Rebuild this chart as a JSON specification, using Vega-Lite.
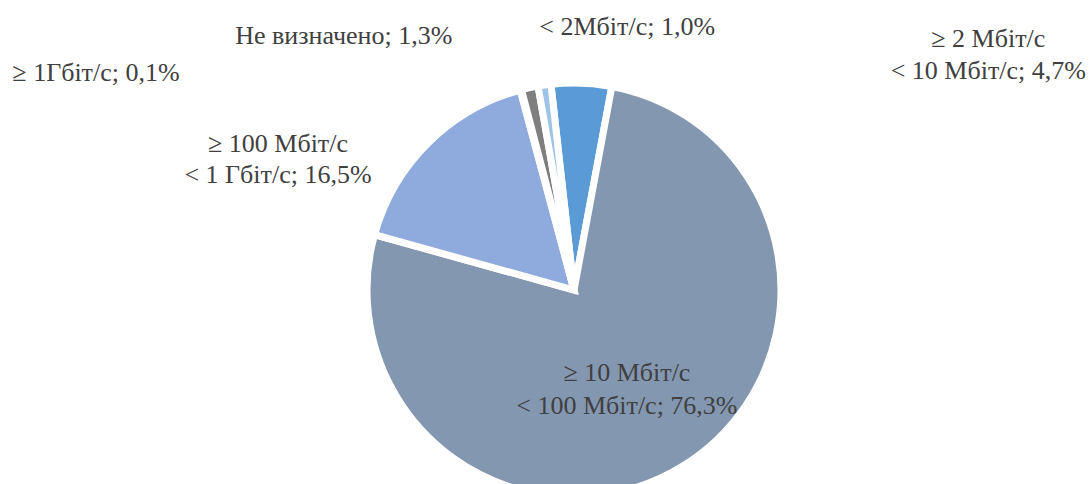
{
  "$schema": "https://vega.github.io/schema/vega-lite/v6.json",
  "width": 1030,
  "height": 388,
  "autosize": "none",
  "padding": {"left": 59, "top": 96, "right": 0, "bottom": 0},
  "background": "white",
  "view": {"stroke": null},
  "config": {"text": {"font": "Liberation Serif", "fontSize": 26, "color": "#404040", "lineBreak": "\n", "baseline": "middle", "align": "center", "lineHeight": 32}},
  "data": {"values": [
    {"idx": 1, "category": "≥ 2 Мбіт/с < 10 Мбіт/с", "value": 4.7, "label": "≥ 2 Мбіт/с\n< 10 Мбіт/с; 4,7%"},
    {"idx": 2, "category": "≥ 10 Мбіт/с < 100 Мбіт/с", "value": 76.3, "label": "≥ 10 Мбіт/с\n< 100 Мбіт/с; 76,3%"},
    {"idx": 3, "category": "≥ 100 Мбіт/с < 1 Гбіт/с", "value": 16.5, "label": "≥ 100 Мбіт/с\n< 1 Гбіт/с; 16,5%"},
    {"idx": 4, "category": "≥ 1Гбіт/с", "value": 0.1, "label": "≥ 1Гбіт/с; 0,1%"},
    {"idx": 5, "category": "Не визначено", "value": 1.3, "label": "Не визначено; 1,3%"},
    {"idx": 6, "category": "< 2Мбіт/с", "value": 1.0, "label": "< 2Мбіт/с; 1,0%"}
  ]},
  "encoding": {
    "theta": {"field": "value", "type": "quantitative", "stack": true, "scale": {"range": [-0.1117, 6.1715]}},
    "order": {"field": "idx", "type": "quantitative"},
    "detail": {"field": "category", "type": "nominal"}
  },
  "layer": [
    {
      "mark": {"type": "arc", "outerRadius": 207, "stroke": "white", "strokeWidth": 7},
      "encoding": {
        "color": {"field": "category", "type": "nominal", "legend": null,
          "scale": {"domain": ["≥ 2 Мбіт/с < 10 Мбіт/с", "≥ 10 Мбіт/с < 100 Мбіт/с", "≥ 100 Мбіт/с < 1 Гбіт/с", "≥ 1Гбіт/с", "Не визначено", "< 2Мбіт/с"],
                    "range": ["#5B9BD5", "#8497B0", "#8FAADC", "#A5A5A5", "#7F7F7F", "#9DC3E6"]}}
      }
    },
    {"mark": {"type": "text", "radius": 98, "dx": 1, "dy": 0, "lineHeight": 33},
     "encoding": {"text": {"condition": {"test": "datum.idx === 2", "field": "label", "type": "nominal"}, "value": ""}}},
    {"mark": {"type": "text", "radius": 230, "dx": 406, "dy": -21},
     "encoding": {"text": {"condition": {"test": "datum.idx === 1", "field": "label", "type": "nominal"}, "value": ""}}},
    {"mark": {"type": "text", "radius": 230, "dx": -134, "dy": 17, "lineHeight": 31},
     "encoding": {"text": {"condition": {"test": "datum.idx === 3", "field": "label", "type": "nominal"}, "value": ""}}},
    {"mark": {"type": "text", "radius": 230, "dx": -419, "dy": 5},
     "encoding": {"text": {"condition": {"test": "datum.idx === 4", "field": "label", "type": "nominal"}, "value": ""}}},
    {"mark": {"type": "text", "radius": 230, "dx": -181, "dy": -29},
     "encoding": {"text": {"condition": {"test": "datum.idx === 5", "field": "label", "type": "nominal"}, "value": ""}}},
    {"mark": {"type": "text", "radius": 230, "dx": 86, "dy": -35},
     "encoding": {"text": {"condition": {"test": "datum.idx === 6", "field": "label", "type": "nominal"}, "value": ""}}}
  ]
}
